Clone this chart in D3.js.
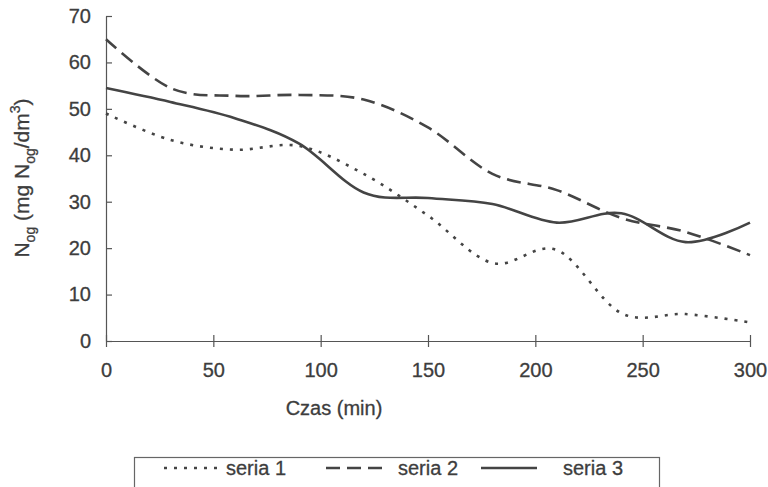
<!DOCTYPE html>
<html>
<head>
  <meta charset="utf-8">
  <script src="https://d3js.org/d3.v7.min.js"></script>
  <style>
    body { margin: 0; background: #fff; }
    text { font-family: "Liberation Sans", Arial, sans-serif; fill: #3d3d3d; stroke: #3d3d3d; stroke-width: 0.3px; }
    .axis path, .axis line { stroke: #555; stroke-width: 1.2px; }
    .series { fill: none; stroke: #444; stroke-width: 2.6px; }
  </style>
</head>
<body>
  <svg width="768" height="487"></svg>

  <script>
    // czas pomiaru (min) i stezenia Nog dla trzech serii
    const times = [0, 30, 60, 90, 120, 150, 180, 210, 240, 270, 300];
    const seria1 = [49, 43.3, 41.2, 42, 36, 27, 16.8, 19.6, 6, 5.8, 4];
    const seria2 = [65, 54.5, 52.8, 53, 52, 46, 36, 32.5, 26.5, 23.5, 18.5];
    const seria3 = [54.5, 51.5, 48, 42.5, 32, 30.8, 29.5, 25.5, 27.5, 21.3, 25.5];
    const seriesNames = ["seria 1", "seria 2", "seria 3"];
    const xTicks = [0, 50, 100, 150, 200, 250, 300];
    const yTicks = [0, 10, 20, 30, 40, 50, 60, 70];

    const dashes = ["3,7", "14,7", null];

    const svg = d3.select("svg");
    const x = d3.scaleLinear().domain([0, 300]).range([106, 750]);
    const y = d3.scaleLinear().domain([0, 70]).range([341, 16]);

    // osie
    const xAxis = svg.append("g").attr("class", "axis")
      .attr("transform", "translate(0,341)")
      .call(d3.axisBottom(x).tickValues(xTicks).tickSize(6).tickSizeOuter(0).tickPadding(16));
    xAxis.selectAll(".tick line").attr("y1", -6);
    xAxis.selectAll("text").style("font-size", "20px").attr("fill", "#3d3d3d");

    const yAxis = svg.append("g").attr("class", "axis")
      .attr("transform", "translate(106,0)")
      .call(d3.axisLeft(y).tickValues(yTicks).tickSize(6).tickSizeOuter(0).tickPadding(9));
    yAxis.selectAll(".tick line").attr("x2", 6);
    yAxis.selectAll("text").style("font-size", "20px").attr("fill", "#3d3d3d");

    // podpisy osi
    svg.append("text")
      .attr("x", 334).attr("y", 415)
      .attr("text-anchor", "middle")
      .style("font-size", "20px")
      .text("Czas (min)");

    const yl = svg.append("text")
      .attr("transform", "translate(29,178) rotate(-90)")
      .attr("text-anchor", "middle")
      .style("font-size", "21px");
    yl.append("tspan").text("N");
    yl.append("tspan").attr("dy", 6).style("font-size", "14px").text("og");
    yl.append("tspan").attr("dy", -6).text(" (mg N");
    yl.append("tspan").attr("dy", 6).style("font-size", "14px").text("og");
    yl.append("tspan").attr("dy", -6).text("/dm");
    yl.append("tspan").attr("dy", -9).style("font-size", "14px").text("3");
    yl.append("tspan").attr("dy", 9).text(")");

    // linie
    const line = d3.line()
      .x((d, i) => x(times[i]))
      .y(d => y(d))
      .curve(d3.curveCatmullRom.alpha(0));

    [seria1, seria2, seria3].forEach((s, i) => {
      svg.append("path")
        .attr("class", "series")
        .attr("d", line(s))
        .attr("stroke-dasharray", dashes[i]);
    });

    // legenda
    const lg = svg.append("g");
    lg.append("rect")
      .attr("x", 134.5).attr("y", 457.5)
      .attr("width", 525).attr("height", 40)
      .attr("fill", "none").attr("stroke", "#666").attr("stroke-width", 1.2);

    const legendPos = [
      { x1: 164, x2: 219, tx: 226 },
      { x1: 326, x2: 383, tx: 398 },
      { x1: 481, x2: 537, tx: 563 }
    ];
    seriesNames.forEach((name, i) => {
      const p = legendPos[i];
      lg.append("line")
        .attr("class", "series")
        .attr("x1", p.x1).attr("x2", p.x2)
        .attr("y1", 468).attr("y2", 468)
        .attr("stroke-dasharray", dashes[i]);
      lg.append("text")
        .attr("x", p.tx).attr("y", 475)
        .style("font-size", "20px")
        .text(name);
    });
  </script>
</body>
</html>
